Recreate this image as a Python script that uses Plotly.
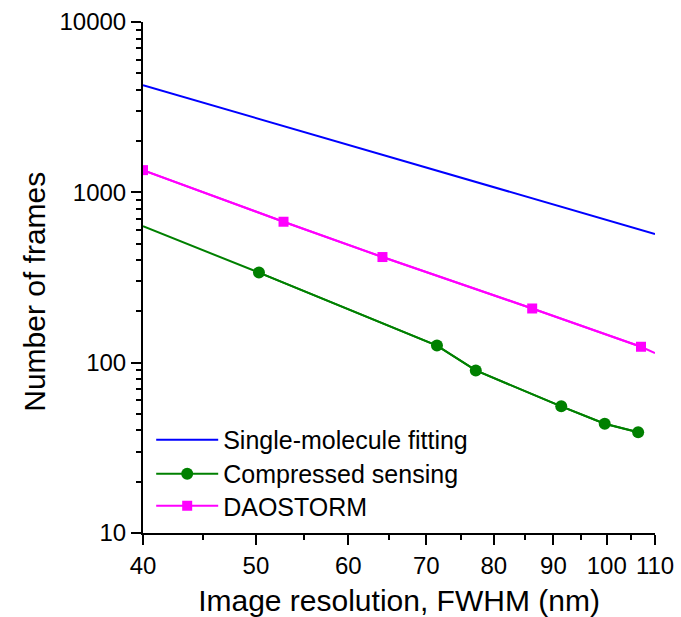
import plotly.graph_objects as go
import math

# Data
sm_x = [40, 110]
sm_y = [4256, 569]

cs_x = [40, 50.3, 71.5, 77.2, 91.4, 99.6, 106.4]
cs_y = [632, 338, 126, 90, 55.4, 43.8, 39]

dao_x = [40, 52.8, 64.2, 86.3, 107, 110]
dao_y = [1350, 672, 417, 208, 124, 114]

x_ticks = [40, 50, 60, 70, 80, 90, 100, 110]
x_minor = [45, 55, 65, 75, 85, 95, 105]
y_ticks = [10, 100, 1000, 10000]
y_minor = [m * 10 ** k for k in (1, 2, 3) for m in range(2, 10)]

BLUE = "#0000FF"
GREEN = "#008000"
MAGENTA = "#FF00FF"
FONT = "Liberation Sans, Arial, sans-serif"

fig = go.Figure()
fig.add_trace(go.Scatter(x=sm_x, y=sm_y, mode="lines", name="Single-molecule fitting",
                         line=dict(color=BLUE, width=2), legend="legend"))
fig.add_trace(go.Scatter(x=cs_x, y=cs_y, mode="lines", showlegend=False,
                         line=dict(color=GREEN, width=2), hoverinfo="skip"))
fig.add_trace(go.Scatter(x=cs_x[1:], y=cs_y[1:], mode="lines+markers", name="Compressed sensing",
                         line=dict(color=GREEN, width=2), legend="legend2",
                         marker=dict(symbol="circle", size=12, color=GREEN)))
fig.add_trace(go.Scatter(x=dao_x, y=dao_y, mode="lines", showlegend=False,
                         line=dict(color=MAGENTA, width=2), hoverinfo="skip"))
fig.add_trace(go.Scatter(x=dao_x[:-1], y=dao_y[:-1], mode="lines+markers", name="DAOSTORM",
                         line=dict(color=MAGENTA, width=2), legend="legend3",
                         marker=dict(symbol="square", size=10, color=MAGENTA)))


def leg(y):
    return dict(x=0.016, y=y, xanchor="left", yanchor="middle",
                bgcolor="rgba(0,0,0,0)", font=dict(size=25, family=FONT, color="black"),
                itemwidth=62, tracegroupgap=0)


fig.update_layout(
    width=681, height=617,
    margin=dict(l=143, r=26, t=22, b=84, autoexpand=False),
    paper_bgcolor="white", plot_bgcolor="white",
    font=dict(family=FONT, color="black", size=24),
    showlegend=True,
    legend=leg(0.182),
    legend2=leg(0.1155),
    legend3=leg(0.0528),
    xaxis=dict(type="log", range=[math.log10(40), math.log10(110)],
               automargin=False,
               tickvals=x_ticks, ticktext=[str(v) for v in x_ticks],
               ticks="outside", ticklen=10, tickwidth=2, tickcolor="black",
               showline=True, linecolor="black", linewidth=2, mirror=False,
               showgrid=False, zeroline=False,
               tickfont=dict(size=24, family=FONT),
               minor=dict(tickvals=x_minor, ticks="outside", ticklen=5, tickwidth=2,
                          tickcolor="black", showgrid=False),
               title=dict(text="Image resolution, FWHM (nm)", font=dict(size=30, family=FONT),
                          standoff=12)),
    yaxis=dict(type="log", range=[1, 4],
               automargin=False,
               tickvals=y_ticks, ticktext=[str(v) for v in y_ticks],
               ticks="outside", ticklen=10, tickwidth=2, tickcolor="black",
               showline=True, linecolor="black", linewidth=2, mirror=False,
               showgrid=False, zeroline=False,
               tickfont=dict(size=24, family=FONT),
               minor=dict(tickvals=y_minor, ticks="outside", ticklen=5, tickwidth=2,
                          tickcolor="black", showgrid=False)),
    annotations=[dict(text="Number of frames", textangle=-90, showarrow=False,
                      xref="paper", yref="paper", x=-0.211, y=0.472,
                      xanchor="center", yanchor="middle",
                      font=dict(size=30, family=FONT, color="black"))],
)

fig.write_html("out.html")
